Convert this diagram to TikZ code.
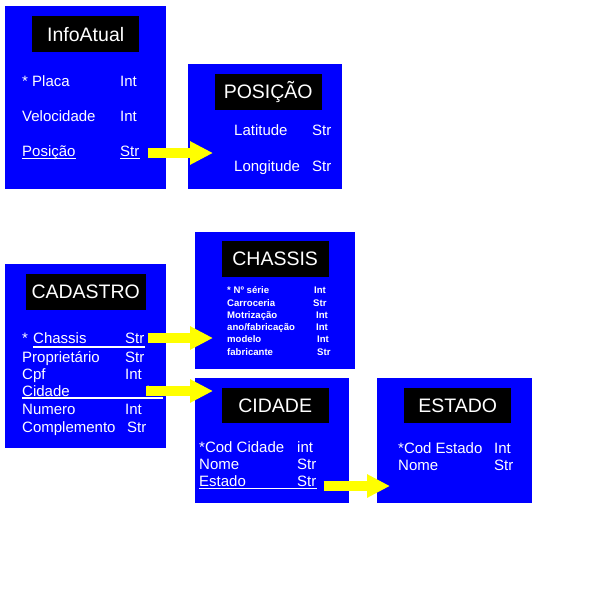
\documentclass[tikz,border=0pt]{standalone}
\usepackage{fontspec}
\setmainfont{Liberation Sans}
\usetikzlibrary{arrows.meta, positioning}
\definecolor{tabblue}{RGB}{0,0,255}
\definecolor{linkyellow}{RGB}{255,255,0}

\begin{document}
\begin{tikzpicture}[x=1pt, y=-1pt]
        \tikzstyle{entity} = [rectangle, fill=tabblue, anchor=north west, inner sep=0pt]
        \tikzstyle{header} = [rectangle, fill=black, text=white, font=\fontsize{19.5}{22}\selectfont, minimum width=107pt, minimum height=36pt, inner sep=0pt]
        \tikzstyle{attr} = [anchor=base west, inner sep=0pt, text=white, font=\fontsize{15}{18}\selectfont]
        \tikzstyle{smallattr} = [attr, font=\fontsize{9.6}{11}\selectfont\bfseries]
        \tikzstyle{uline} = [white, line width=1.5pt]
        \tikzstyle{link} = [linkyellow, line width=10pt, -{Triangle[length=23pt, width=22pt]}]

        \useasboundingbox (0,0) rectangle (600,600);

        % tabelas
        \node [entity, minimum width=161pt, minimum height=183pt] (infoatual) at (5,6) {};
        \node [entity, minimum width=154pt, minimum height=125pt] (posicao) at (188,64) {};
        \node [entity, minimum width=161pt, minimum height=184pt] (cadastro) at (5,264) {};
        \node [entity, minimum width=160pt, minimum height=137pt] (chassis) at (195,232) {};
        \node [entity, minimum width=154pt, minimum height=125pt] (cidade) at (195,378) {};
        \node [entity, minimum width=155pt, minimum height=125pt] (estado) at (377,378) {};

        \node [header, below=10pt of infoatual.north] (infoatualT) {InfoAtual};
        \node [header, below=10pt of posicao.north, xshift=3pt] (posicaoT) {POSIÇÃO};
        \node [header, below=10pt of cadastro.north, minimum width=120pt] (cadastroT) {CADASTRO};
        \node [header, below=9pt of chassis.north] (chassisT) {CHASSIS};
        \node [header, below=10pt of cidade.north, xshift=3pt, minimum height=35pt] (cidadeT) {CIDADE};
        \node [header, below=10pt of estado.north, xshift=3pt, minimum height=35pt] (estadoT) {ESTADO};

        % InfoAtual
        \node [attr] (infoPlaLbl) at (22,86) {* Placa};
        \node [attr] (infoPlaTyp) at (120,86) {Int};
        \node [attr] (infoVelLbl) at (22,121) {Velocidade};
        \node [attr] (infoVelTyp) at (120,121) {Int};
        \node [attr] (infoPosLbl) at (22,156) {Posição};
        \node [attr] (infoPosTyp) at (120,156) {Str};
        \draw [uline] ([yshift=-2.5pt]infoPosLbl.base west) -- ([yshift=-2.5pt]infoPosLbl.base east);
        \draw [uline] ([yshift=-2.5pt]infoPosTyp.base west) -- ([yshift=-2.5pt]infoPosTyp.base east);

        % POSIÇÃO
        \node [attr] (posLatLbl) at (234,135) {Latitude};
        \node [attr] (posLatTyp) at (312,135) {Str};
        \node [attr] (posLonLbl) at (234,171) {Longitude};
        \node [attr] (posLonTyp) at (312,171) {Str};

        % CADASTRO
        \node [attr] (cadChaStar) at (22,343) {*};
        \node [attr] (cadChaLbl) at (33,343) {Chassis};
        \node [attr] (cadChaTyp) at (125,343) {Str};
        \node [attr] (cadProLbl) at (22,362) {Proprietário};
        \node [attr] (cadProTyp) at (125,362) {Str};
        \node [attr] (cadCpfLbl) at (22,379) {Cpf};
        \node [attr] (cadCpfTyp) at (125,379) {Int};
        \node [attr] (cadCidLbl) at (22,396) {Cidade};
        \node [attr] (cadCidTyp) at (146,396) {Int};
        \node [attr] (cadNumLbl) at (22,414) {Numero};
        \node [attr] (cadNumTyp) at (125,414) {Int};
        \node [attr] (cadComLbl) at (22,432) {Complemento};
        \node [attr] (cadComTyp) at (127,432) {Str};
        \draw [uline] ([yshift=-4pt]cadChaLbl.base west) -- ([yshift=-4pt]cadChaLbl.base west -| cadChaTyp.east);
        \draw [uline] ([yshift=-2pt]cadCidLbl.base west) -- ([yshift=-2pt, xshift=-3pt]cadCidLbl.base west -| cadastro.east);

        % CHASSIS
        \node [smallattr] (chaSerLbl) at (227,293.5) {* Nº série};
        \node [smallattr] (chaSerTyp) at (314,293.5) {Int};
        \node [smallattr] (chaCarLbl) at (227,306) {Carroceria};
        \node [smallattr] (chaCarTyp) at (313,306) {Str};
        \node [smallattr] (chaMotLbl) at (227,318) {Motrização};
        \node [smallattr] (chaMotTyp) at (316,318) {Int};
        \node [smallattr] (chaAnoLbl) at (227,330.5) {ano/fabricação};
        \node [smallattr] (chaAnoTyp) at (316,330.5) {Int};
        \node [smallattr] (chaModLbl) at (227,342.5) {modelo};
        \node [smallattr] (chaModTyp) at (317,342.5) {Int};
        \node [smallattr] (chaFabLbl) at (227,355) {fabricante};
        \node [smallattr] (chaFabTyp) at (317,355) {Str};

        % CIDADE
        \node [attr] (cidCodLbl) at (199,452) {*Cod Cidade};
        \node [attr] (cidCodTyp) at (297,452) {int};
        \node [attr] (cidNomLbl) at (199,469) {Nome};
        \node [attr] (cidNomTyp) at (297,469) {Str};
        \node [attr] (cidEstLbl) at (199,486) {Estado};
        \node [attr] (cidEstTyp) at (297,486) {Str};
        \draw [uline] ([yshift=-2.5pt]cidEstLbl.base west) -- ([yshift=-2.5pt]cidEstLbl.base west -| cidEstTyp.east);

        % ESTADO
        \node [attr] (estCodLbl) at (398,453) {*Cod Estado};
        \node [attr] (estCodTyp) at (494,453) {Int};
        \node [attr] (estNomLbl) at (398,470) {Nome};
        \node [attr] (estNomTyp) at (494,470) {Str};

        % ligacoes
        \draw [link] ([xshift=8pt, yshift=3pt]infoPosTyp.base east) -- ([xshift=25pt, yshift=3pt]infoPosTyp.base east -| posicao.west);
        \draw [link] ([xshift=3pt, yshift=5pt]cadChaTyp.base east) -- ([xshift=18pt, yshift=5pt]cadChaTyp.base east -| chassis.west);
        \draw [link] ([yshift=5pt]cadCidTyp.base west) -- ([xshift=18pt, yshift=5pt]cadCidTyp.base west -| cidade.west);
        \draw [link] ([xshift=7pt]cidEstTyp.base east) -- ([xshift=13pt]cidEstTyp.base east -| estado.west);
\end{tikzpicture}
\end{document}
